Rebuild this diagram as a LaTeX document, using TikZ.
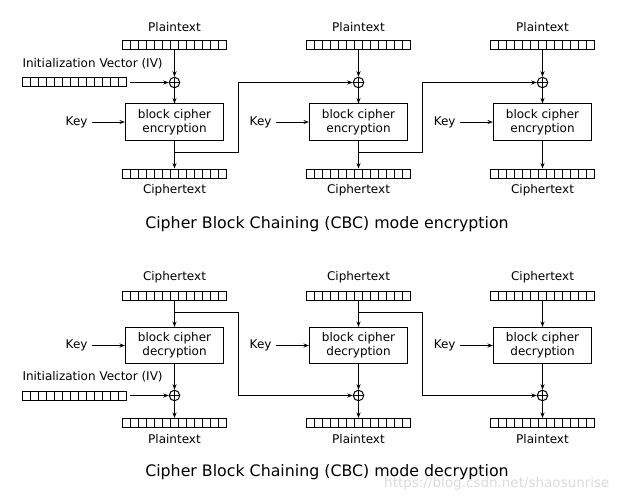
\documentclass[tikz,border=0pt]{standalone}
\usepackage{fontspec}
\setmainfont{DejaVu Sans}
\usetikzlibrary{arrows.meta}
\tikzset{
  reg/.style={draw, minimum width=104.5pt, minimum height=9pt, inner sep=0pt,
    path picture={\foreach \k in {1,...,12}
      \draw ([xshift=\k*8.04pt]path picture bounding box.south west) -- ([xshift=\k*8.04pt]path picture bounding box.north west);}},
  cipherbox/.style={draw, minimum width=98pt, minimum height=36pt, align=center, inner sep=0pt, font=\fontsize{12}{14}\selectfont},
  xorgate/.style={draw, circle, minimum size=10.5pt, inner sep=0pt,
    path picture={\draw (path picture bounding box.north) -- (path picture bounding box.south)
      (path picture bounding box.west) -- (path picture bounding box.east);}},
  lbl/.style={font=\fontsize{12}{14}\selectfont, inner sep=0pt},
  ttl/.style={font=\fontsize{15.8}{18}\selectfont, inner sep=0pt},
  flow/.style={-{Stealth[length=5.5pt,width=4pt]}}
}
\begin{document}
\begin{tikzpicture}[x=1pt, y=-1pt, line width=1pt]
			%%%%% START %%%%%
			\useasboundingbox (0,0) rectangle (620,500);
			
			% encryption
			\node[lbl, anchor=west] (ivlabelE) at (22, 64) {Initialization Vector (IV)};
			\node[reg] (ivE) at (74.5, 82.5) {};
			\foreach \i/\cx in {1/174.5, 2/358.5, 3/542.5} {
				\node[lbl] (ptlabelE\i) at (\cx, 27) {Plaintext};
				\node[reg] (ptE\i) at (\cx, 45) {};
				\node[xorgate] (xorE\i) at (\cx, 82.5) {};
				\node[cipherbox] (encE\i) at (\cx, 122) {block cipher\\encryption};
				\node[reg] (ctE\i) at (\cx, 173.5) {};
				\node[lbl] (ctlabelE\i) at (\cx, 190) {Ciphertext};
				\node[lbl, anchor=east] (keyE\i) at (\cx-86.5, 122) {Key};
				\coordinate (splitE\i) at (\cx, 152.5);
				\coordinate (turnE\i) at (\cx+63.5, 152.5);
				\draw[flow] (ptE\i) -- (xorE\i);
				\draw[flow] (xorE\i) -- (encE\i);
				\draw[flow] (encE\i) -- (ctE\i);
				\draw[flow] ([xshift=-1pt]keyE\i.east) ++(5,0) -- (encE\i.west);
			}
			\draw[flow] ([xshift=3pt]ivE.east) -- (xorE1);
			\draw[flow] (splitE1) -- (turnE1) |- (xorE2);
			\draw[flow] (splitE2) -- (turnE2) |- (xorE3);
			
			\node[ttl] (titleE) at (327, 224.5) {Cipher Block Chaining (CBC) mode encryption};
			
			% decryption
			\node[lbl, anchor=west] (ivlabelD) at (22, 377) {Initialization Vector (IV)};
			\node[reg] (ivD) at (74.5, 395.5) {};
			\foreach \i/\cx in {1/174.5, 2/358.5, 3/542.5} {
				\node[lbl] (ctlabelD\i) at (\cx, 277) {Ciphertext};
				\node[reg] (ctD\i) at (\cx, 295.5) {};
				\node[cipherbox] (decD\i) at (\cx, 345.5) {block cipher\\decryption};
				\node[xorgate] (xorD\i) at (\cx, 395.5) {};
				\node[reg] (ptD\i) at (\cx, 423) {};
				\node[lbl] (ptlabelD\i) at (\cx, 439) {Plaintext};
				\node[lbl, anchor=east] (keyD\i) at (\cx-86.5, 345.5) {Key};
				\coordinate (splitD\i) at (\cx, 312.5);
				\coordinate (turnD\i) at (\cx+63.5, 312.5);
				\draw[flow] (ctD\i) -- (decD\i);
				\draw[flow] (decD\i) -- (xorD\i);
				\draw[flow] (xorD\i) -- (ptD\i);
				\draw[flow] ([xshift=-1pt]keyD\i.east) ++(5,0) -- (decD\i.west);
			}
			\draw[flow] ([xshift=3pt]ivD.east) -- (xorD1);
			\draw[flow] (splitD1) -- (turnD1) |- (xorD2);
			\draw[flow] (splitD2) -- (turnD2) |- (xorD3);
			
			\node[ttl] (titleD) at (327, 472.5) {Cipher Block Chaining (CBC) mode decryption};
			
			\node[font=\fontsize{13.5}{15}\selectfont, text=black!14, inner sep=0pt, anchor=east] (mark) at (610, 484) {https://blog.csdn.net/shaosunrise};
			%%%%% END %%%%%
\end{tikzpicture}
\end{document}
